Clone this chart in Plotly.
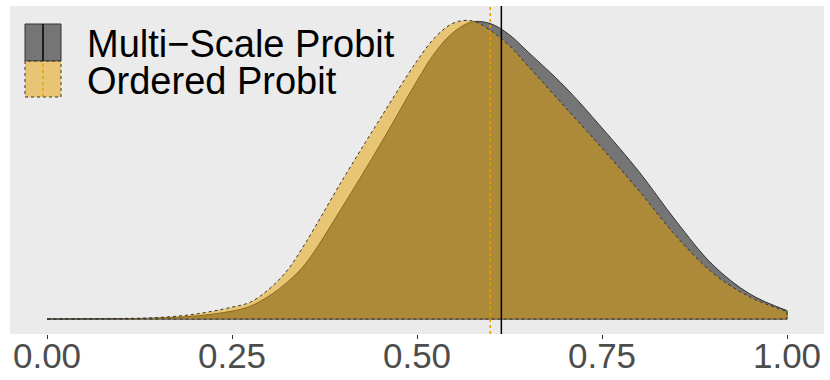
import plotly.graph_objects as go

# ---- data ----
x_grid = [0.00, 0.05, 0.10, 0.15, 0.20, 0.25, 0.275, 0.30, 0.325, 0.35, 0.40, 0.45, 0.50, 0.525,
          0.55, 0.575, 0.60, 0.625, 0.65, 0.70, 0.75, 0.80, 0.85, 0.90, 0.95, 1.00]
dens_ordered = [0.002, 0.002, 0.005, 0.012, 0.039, 0.094, 0.134, 0.236, 0.386, 0.606, 1.102, 1.575,
                2.031, 2.220, 2.331, 2.346, 2.268, 2.150, 1.992, 1.669, 1.346, 1.010, 0.654, 0.362,
                0.173, 0.059]
dens_multi = [0.001, 0.002, 0.003, 0.008, 0.024, 0.063, 0.102, 0.181, 0.291, 0.441, 0.890, 1.370,
              1.874, 2.102, 2.260, 2.339, 2.323, 2.236, 2.102, 1.827, 1.504, 1.160, 0.772, 0.425,
              0.197, 0.067]
mean_multi = 0.614
mean_ordered = 0.599
series_names = ["Multi\u2212Scale Probit", "Ordered Probit"]
tick_vals = [0.00, 0.25, 0.50, 0.75, 1.00]
tick_text = ["0.00", "0.25", "0.50", "0.75", "1.00"]

# ---- styles ----
W, H = 830, 380
ML, MR, MT, MB = 10, 6, 6, 46
PW, PH = W - ML - MR, H - MT - MB
fill_multi = "rgba(0,0,0,0.5)"
fill_ord = "rgba(230,159,0,0.5)"
edge = "#333333"
orange = "#E69F00"
FONT = "Liberation Sans, Arial, sans-serif"

fig = go.Figure()

def add_density(xs, ys, fill, dash, name):
    fig.add_trace(go.Scatter(x=xs, y=ys, mode="lines", fill="tozeroy", fillcolor=fill,
                             line=dict(color=edge, width=1, dash=dash, shape="spline", smoothing=1.0),
                             name=name, showlegend=False, hoverinfo="skip"))
    # closing outline (right edge + baseline)
    fig.add_trace(go.Scatter(x=[xs[-1], xs[-1], xs[0]], y=[ys[-1], 0, 0], mode="lines",
                             line=dict(color=edge, width=1, dash=dash),
                             showlegend=False, hoverinfo="skip"))

add_density(x_grid, dens_multi, fill_multi, "solid", series_names[0])
add_density(x_grid, dens_ordered, fill_ord, "dot", series_names[1])

ymax = max(max(dens_multi), max(dens_ordered))

# mean lines
fig.add_shape(type="line", xref="x", yref="paper", x0=mean_ordered, x1=mean_ordered, y0=0, y1=1,
              line=dict(color=orange, width=1.5, dash="dot"), layer="above")
fig.add_shape(type="line", xref="x", yref="paper", x0=mean_multi, x1=mean_multi, y0=0, y1=1,
              line=dict(color="black", width=1.5), layer="above")

# ---- manual legend (keys in pixel-based paper coords) ----
def px2paper(px, py):
    return (px - ML) / PW, (H - MB - py) / PH

keys = [
    (24, 61, fill_multi, "solid", "black", "solid"),
    (61, 97, fill_ord, "dot", orange, "dot"),
]
for i, (ytop, ybot, fc, bdash, lc, ldash) in enumerate(keys):
    x0, y1 = px2paper(25, ytop)
    x1, y0 = px2paper(61, ybot)
    fig.add_shape(type="rect", xref="paper", yref="paper", x0=x0, x1=x1, y0=y0, y1=y1,
                  fillcolor=fc, line=dict(color=edge, width=1, dash=bdash), layer="above")
    xm = (x0 + x1) / 2
    fig.add_shape(type="line", xref="paper", yref="paper", x0=xm, x1=xm, y0=y0, y1=y1,
                  line=dict(color=lc, width=1.5, dash=ldash), layer="above")
    tx, ty = px2paper(85, (ytop + ybot) / 2 + 1.5)
    fig.add_annotation(xref="paper", yref="paper", x=tx, y=ty, text=series_names[i],
                       showarrow=False, xanchor="left", yanchor="middle",
                       font=dict(family=FONT, size=38, color="black"))

fig.update_layout(
    width=W, height=H,
    margin=dict(l=ML, r=MR, t=MT, b=MB, autoexpand=False),
    paper_bgcolor="white", plot_bgcolor="#EBEBEB",
    showlegend=False,
    xaxis=dict(range=[-0.05, 1.05], tickvals=tick_vals, ticktext=tick_text,
               showgrid=False, zeroline=False, showline=False, automargin=False,
               ticks="outside", ticklen=4, tickwidth=1, tickcolor="#333333",
               ticklabelstandoff=-13,
               tickfont=dict(family=FONT, size=35, color="#4D4D4D")),
    yaxis=dict(range=[-0.05 * ymax, 1.05 * ymax], visible=False, showgrid=False, zeroline=False,
               automargin=False),
)

fig.write_html("out.html", config={"displayModeBar": False},
               post_script="document.body.style.margin='0px';document.body.style.overflow='hidden';")
